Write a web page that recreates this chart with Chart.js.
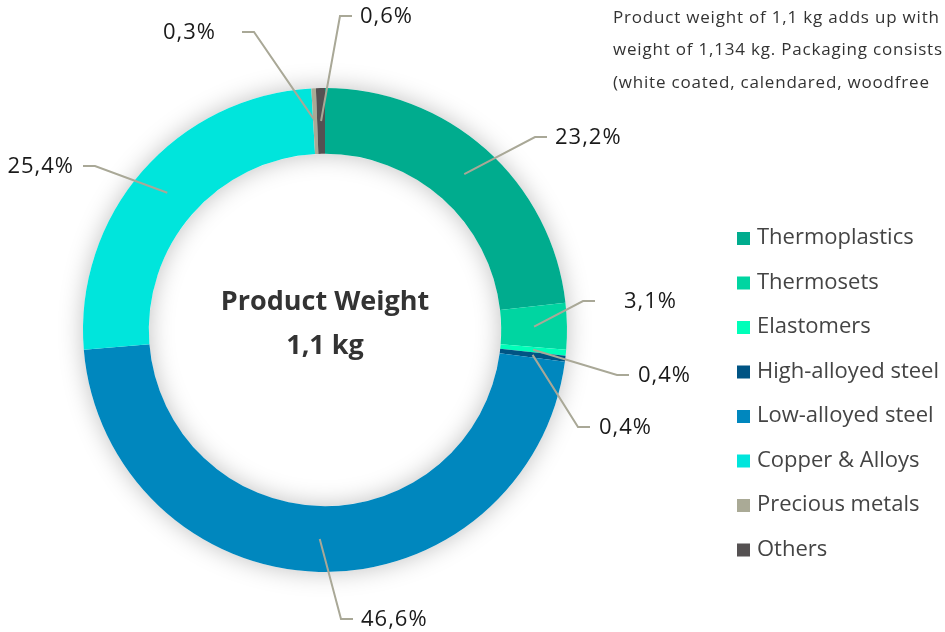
<!DOCTYPE html>
<html>
<head>
<meta charset="utf-8">
<script src="https://cdn.jsdelivr.net/npm/chart.js@4.4.1/dist/chart.umd.min.js"></script>
<style>
  html, body { margin: 0; padding: 0; background: #fff; overflow: hidden; }
  #wrap { width: 945px; height: 632px; position: relative; }
</style>
</head>
<body>
<div id="wrap"><canvas id="donut_weight" width="945" height="632"></canvas></div>
<script>
var materialLabels = ["Thermoplastics", "Thermosets", "Elastomers", "High-alloyed steel",
                      "Low-alloyed steel", "Copper & Alloys", "Precious metals", "Others"];
var materialShares = [23.2, 3.1, 0.4, 0.4, 46.6, 25.4, 0.3, 0.6];
var materialColors = ["#00ac8e", "#00d5a1", "#00ffb9", "#005484", "#0087be", "#00e5dc", "#aaaa96", "#555152"];

var centerLines = ["Product Weight", "1,1 kg"];
var noteLines = ["Product weight of 1,1 kg adds up with",
                 "weight of 1,134 kg. Packaging consists",
                 "(white coated, calendared, woodfree"];

// where each leader line bends (offset from the doughnut centre), which way the label goes, gap before text
var leaderElbows = [
  { dx: 210, dy: -193, side: 1, gap: 8 },
  { dx: 258, dy: -29, side: 1, gap: 29 },
  { dx: 292, dy: 45, side: 1, gap: 9 },
  { dx: 253, dy: 97, side: 1, gap: 9 },
  { dx: 16, dy: 289, side: 1, gap: 8 },
  { dx: -230, dy: -164, side: -1, gap: 9 },
  { dx: -71, dy: -298, side: -1, gap: 26 },
  { dx: 15, dy: -314, side: 1, gap: 8 }
];

function formatShare(v) {
  return v.toFixed(1).replace(".", ",") + "%";
}

var ringShadow = {
  id: "ringShadow",
  beforeDatasetsDraw: function(chart) {
    var arc = chart.getDatasetMeta(0).data[0];
    var ctx = chart.ctx;
    ctx.save();
    ctx.beginPath();
    ctx.arc(arc.x, arc.y, arc.outerRadius, 0, Math.PI * 2, false);
    ctx.arc(arc.x, arc.y, arc.innerRadius, 0, Math.PI * 2, true);
    ctx.closePath();
    ctx.shadowColor = "rgba(0,0,0,0.25)";
    ctx.shadowBlur = 24;
    ctx.fillStyle = "#ffffff";
    ctx.fill();
    ctx.restore();
  }
};

var leaderLabels = {
  id: "leaderLabels",
  afterDatasetsDraw: function(chart) {
    var ctx = chart.ctx;
    var arcs = chart.getDatasetMeta(0).data;
    var cx = arcs[0].x, cy = arcs[0].y;
    ctx.save();
    ctx.lineWidth = 2;
    ctx.strokeStyle = "#a9a897";
    ctx.font = "22px 'Open Sans', 'Noto Sans', sans-serif";
    ctx.letterSpacing = "1px";
    ctx.fillStyle = "#1a1a1a";
    ctx.textBaseline = "middle";
    for (var i = 0; i < arcs.length; i++) {
      var p = arcs[i].getCenterPoint();
      var el = leaderElbows[i];
      var ex = cx + el.dx, ey = cy + el.dy;
      var hx = ex + el.side * 12;
      ctx.beginPath();
      ctx.moveTo(p.x, p.y);
      ctx.lineTo(ex, ey);
      ctx.lineTo(hx, ey);
      ctx.stroke();
      ctx.textAlign = el.side > 0 ? "left" : "right";
      ctx.fillText(formatShare(materialShares[i]), hx + el.side * el.gap, ey + 1);
    }

    // centre text
    ctx.letterSpacing = "0px";
    ctx.fillStyle = "#333333";
    ctx.textAlign = "center";
    ctx.font = "bold 27px 'Open Sans', 'Noto Sans', sans-serif";
    ctx.fillText(centerLines[0], cx, cy - 28);
    ctx.fillText(centerLines[1], cx, cy + 16);

    // note top right
    ctx.font = "17px 'Open Sans', 'Noto Sans', sans-serif";
    ctx.letterSpacing = "0.8px";
    ctx.textAlign = "left";
    ctx.fillStyle = "#333333";
    for (var n = 0; n < noteLines.length; n++) {
      ctx.fillText(noteLines[n], 613, 18 + n * 32.5);
    }

    // legend
    ctx.letterSpacing = "0px";
    ctx.font = "22px 'Open Sans', 'Noto Sans', sans-serif";
    for (var k = 0; k < materialLabels.length; k++) {
      var ly = 238 + k * 44.5;
      ctx.fillStyle = materialColors[k];
      ctx.fillRect(737, ly - 6, 13, 13);
      ctx.fillStyle = "#444444";
      ctx.fillText(materialLabels[k], 757, ly);
    }
    ctx.restore();
  }
};

function load() {
  var config = {
    type: "doughnut",
    data: {
      labels: materialLabels,
      datasets: [{
        data: materialShares,
        backgroundColor: materialColors,
        borderWidth: 0
      }]
    },
    options: {
      responsive: false,
      animation: false,
      devicePixelRatio: 1,
      cutout: "72.8%",
      layout: { padding: { left: 83, right: 378, top: 88, bottom: 60 } },
      plugins: {
        legend: { display: false },
        tooltip: { enabled: false }
      }
    },
    plugins: [ringShadow, leaderLabels]
  };
  new Chart(document.getElementById("donut_weight").getContext("2d"), config);
}

document.addEventListener("DOMContentLoaded", load, false);
</script>
</body>
</html>
